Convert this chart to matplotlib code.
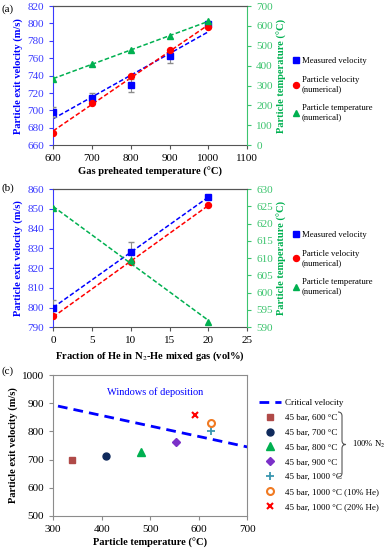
import numpy as np
import matplotlib
matplotlib.use("Agg")
import matplotlib.pyplot as plt
from matplotlib.path import Path
from matplotlib.patches import PathPatch
from matplotlib.lines import Line2D

plt.rcParams['font.family'] = ['Liberation Serif', 'DejaVu Serif']
plt.rcParams['mathtext.fontset'] = 'stix'

# ---- data, panel (a) ----
gas_temp = [600, 700, 800, 900, 1000]
meas_vel_a = [698, 714, 729, 762, 799]
meas_err_a = [6, 6, 7.5, 8, 2]
num_vel_a = [674, 708, 740, 769, 796]
num_temp_a = [335, 407, 479, 551, 623]

# ---- data, panel (b) ----
he_frac = [0, 10, 20]
meas_vel_b = [800, 828, 856]
meas_err_b = [4, 5, 0]
num_vel_b = [795.5, 823, 852]
num_temp_b = [624.5, 609.5, 591.5]

# ---- data, panel (c) ----
crit_temp = [310, 700]
crit_vel = [890, 745]
cases = ['45 bar, 600 °C', '45 bar, 700 °C', '45 bar, 800 °C', '45 bar, 900 °C',
         '45 bar, 1000 °C', '45 bar, 1000 °C (10% He)', '45 bar, 1000 °C (20% He)']
case_temp = [339, 410, 481, 553, 625, 625, 592]
case_vel = [698, 713, 728, 762, 801, 829, 857]

BLUE = '#0000ff'
RED = '#ff0000'
GREEN = '#00b050'
AX_BLUE = '#3a3aff'
AX_GREEN = '#3cc46e'
GREY = '#8c8c8c'
TICK_FS = 8
LAB_FS = 7.6
LEG_FS = 6.2


def style_twin(ax, ax2, ylab, ylab2):
    ax.spines['left'].set_color(AX_BLUE)
    ax.spines['right'].set_visible(False)
    ax.spines['top'].set_color('#555555')
    ax.spines['bottom'].set_color('#555555')
    ax2.spines['right'].set_color(AX_GREEN)
    ax2.spines['left'].set_visible(False)
    ax2.spines['top'].set_color('#555555')
    ax2.spines['bottom'].set_visible(False)
    ax.tick_params(axis='y', colors=AX_BLUE, labelsize=TICK_FS, length=3, direction='out')
    ax.tick_params(axis='x', labelsize=TICK_FS, length=3, direction='out', color='#555555')
    ax2.tick_params(axis='y', colors=AX_GREEN, labelsize=TICK_FS, length=3, direction='out')
    ax.set_ylabel(ylab, color=BLUE, fontweight='bold', fontsize=LAB_FS, labelpad=3)
    ax2.set_ylabel(ylab2, color=GREEN, fontweight='bold', fontsize=LAB_FS, labelpad=3)


def trend(ax, x, y, color):
    k, b = np.polyfit(x, y, 1)
    xs = np.array([x[0], x[-1]])
    ax.plot(xs, k * xs + b, '--', color=color, lw=1.1, dashes=(3, 1.5), zorder=2)


def twin_legend(ax, y_center):
    handles = [
        Line2D([], [], ls='none', marker='s', color=BLUE, ms=4.3),
        Line2D([], [], ls='none', marker='o', color=RED, ms=4.3),
        Line2D([], [], ls='none', marker='^', color=GREEN, ms=4.3),
    ]
    labels = ['Measured velocity', 'Particle velocity\n(numerical)',
              'Particle temperature\n(numerical)']
    ax.legend(handles, labels, loc='center left', bbox_to_anchor=(0.752, y_center),
              bbox_transform=fig.transFigure, frameon=False, fontsize=LEG_FS,
              handlelength=0.6, handletextpad=0.3, labelspacing=1.3, borderpad=0)


fig = plt.figure(figsize=(3.85, 5.5), dpi=100)

# ---------------- panel (a) ----------------
ax_a = fig.add_axes([0.138, 0.736, 0.504, 0.253])
ax_a2 = ax_a.twinx()
trend(ax_a, gas_temp, meas_vel_a, BLUE)
trend(ax_a, gas_temp, num_vel_a, RED)
trend(ax_a2, gas_temp, num_temp_a, GREEN)
ax_a.errorbar(gas_temp, meas_vel_a, yerr=meas_err_a, fmt='s', color=BLUE, ms=4.3,
              ecolor=GREY, elinewidth=0.8, capsize=2, zorder=3)
ax_a.plot(gas_temp, num_vel_a, 'o', color=RED, ms=4.3, zorder=4)
ax_a2.plot(gas_temp, num_temp_a, '^', color=GREEN, ms=4.3, zorder=4)
ax_a.set_xlim(600, 1100)
ax_a.set_ylim(660, 820)
ax_a.set_xticks(range(600, 1101, 100))
ax_a.set_yticks(range(660, 821, 20))
ax_a2.set_ylim(0, 700)
ax_a2.set_yticks(range(0, 701, 100))
style_twin(ax_a, ax_a2, 'Particle exit velocity (m/s)', 'Particle temperature (°C)')
ax_a.set_xlabel('Gas preheated temperature (°C)', fontweight='bold', fontsize=LAB_FS, labelpad=3)
twin_legend(ax_a, 0.838)
fig.text(0.005, 0.984, '(a)', fontsize=8, va='center')

# ---------------- panel (b) ----------------
ax_b = fig.add_axes([0.138, 0.405, 0.504, 0.251])
ax_b2 = ax_b.twinx()
trend(ax_b, he_frac, meas_vel_b, BLUE)
trend(ax_b, he_frac, num_vel_b, RED)
trend(ax_b2, he_frac, num_temp_b, GREEN)
ax_b.errorbar(he_frac, meas_vel_b, yerr=meas_err_b, fmt='s', color=BLUE, ms=4.3,
              ecolor=GREY, elinewidth=0.8, capsize=2, zorder=3)
ax_b.plot(he_frac, num_vel_b, 'o', color=RED, ms=4.3, zorder=4)
ax_b2.plot(he_frac, num_temp_b, '^', color=GREEN, ms=4.3, zorder=4)
ax_b.set_xlim(0, 25)
ax_b.set_ylim(790, 860)
ax_b.set_xticks(range(0, 26, 5))
ax_b.set_yticks(range(790, 861, 10))
ax_b2.set_ylim(590, 630)
ax_b2.set_yticks(range(590, 631, 5))
style_twin(ax_b, ax_b2, 'Particle exit velocity (m/s)', 'Particle temperature (°C)')
ax_b.set_xlabel('Fraction of He in N$_2$-He mixed gas (vol%)', fontweight='bold',
                fontsize=LAB_FS, labelpad=3)
twin_legend(ax_b, 0.522)
fig.text(0.005, 0.657, '(b)', fontsize=8, va='center')

# ---------------- panel (c) ----------------
ax_c = fig.add_axes([0.138, 0.062, 0.504, 0.256])
ax_c.plot(crit_temp, crit_vel, '--', color=BLUE, lw=2, dashes=(3.5, 2.2),
          label='Critical velocity')
styles = [
    dict(marker='s', color='#b04a48', ms=5, ls='none'),
    dict(marker='o', color='#0f2a5c', ms=5, ls='none'),
    dict(marker='^', color=GREEN, ms=5.5, ls='none'),
    dict(marker='D', color='#7b30c8', ms=4, ls='none'),
    dict(marker='+', color='#3a97b0', ms=5.5, mew=1.3, ls='none'),
    dict(marker='o', mfc='none', mec='#f07a22', ms=5, mew=1.5, ls='none'),
    dict(marker='x', color=RED, ms=5, mew=1.5, ls='none'),
]
for t, v, lab, st in zip(case_temp, case_vel, cases, styles):
    ax_c.plot([t], [v], label=lab, **st)
ax_c.set_xlim(300, 700)
ax_c.set_ylim(500, 1000)
ax_c.set_xticks(range(300, 701, 100))
ax_c.set_yticks(range(500, 1001, 100))
for s in ax_c.spines.values():
    s.set_color(GREY)
ax_c.tick_params(labelsize=TICK_FS, length=3, direction='out', color=GREY)
ax_c.set_xlabel('Particle temperature (°C)', fontweight='bold', fontsize=LAB_FS, labelpad=3)
ax_c.set_ylabel('Particle exit velocity (m/s)', fontweight='bold', fontsize=LAB_FS, labelpad=3)
ax_c.text(510, 938, 'Windows of deposition', color=BLUE, fontsize=7.5, ha='center', va='center')
ax_c.legend(loc='upper left', bbox_to_anchor=(0.662, 0.283), bbox_transform=fig.transFigure,
            frameon=False, fontsize=6.5, handlelength=2.4, handletextpad=0.4,
            labelspacing=0.72, borderpad=0)
fig.text(0.005, 0.326, '(c)', fontsize=8, va='center')

# brace grouping the 100% N2 cases (figure pixel coords -> fraction)
W, H = 385.0, 550.0
bx, btop, bbot, bw, r = 338.0, 412.0, 477.0, 8.0, 4.0
bmid = (btop + bbot) / 2
pts = [(bx, btop), (bx + bw / 2, btop), (bx + bw / 2, btop + r),
       (bx + bw / 2, bmid - r), (bx + bw / 2, bmid), (bx + bw, bmid),
       (bx + bw / 2, bmid), (bx + bw / 2, bmid + r),
       (bx + bw / 2, bbot - r), (bx + bw / 2, bbot), (bx, bbot)]
codes = [Path.MOVETO, Path.CURVE3, Path.CURVE3, Path.LINETO, Path.CURVE3, Path.CURVE3,
         Path.CURVE3, Path.CURVE3, Path.LINETO, Path.CURVE3, Path.CURVE3]
verts = [(x / W, 1 - y / H) for x, y in pts]
fig.add_artist(PathPatch(Path(verts, codes), fill=False, lw=0.8, color='#555555',
                         transform=fig.transFigure))
fig.text(352 / W, 1 - bmid / H, '100% N$_2$', fontsize=LEG_FS, va='center')

fig.savefig('out.png', dpi=100)
